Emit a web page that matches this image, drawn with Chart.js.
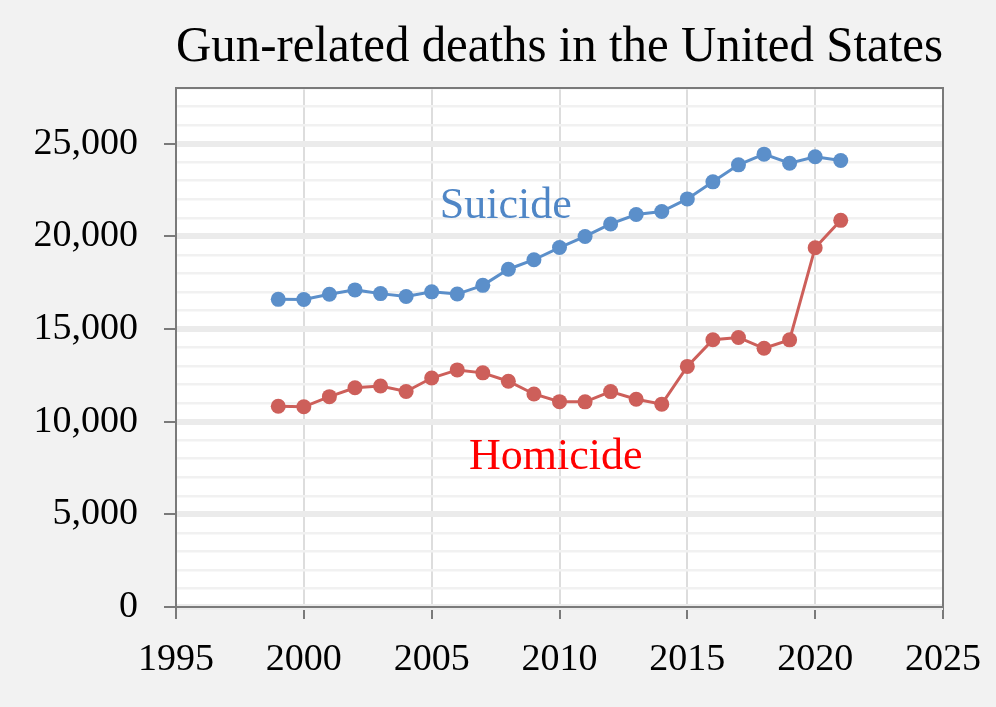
<!DOCTYPE html>
<html>
<head>
<meta charset="utf-8">
<title>Gun-related deaths in the United States</title>
<script src="https://cdn.jsdelivr.net/npm/chart.js@4"></script>
<style>
  html, body { margin: 0; padding: 0; background: #f2f2f2; }
  #wrap { width: 996px; height: 707px; }
</style>
</head>
<body>
<div id="wrap"><canvas id="chart" width="996" height="707"></canvas></div>
<script>
// Data
const years = [1999, 2000, 2001, 2002, 2003, 2004, 2005, 2006, 2007, 2008, 2009, 2010,
  2011, 2012, 2013, 2014, 2015, 2016, 2017, 2018, 2019, 2020, 2021];
const suicide = [16599, 16586, 16869, 17108, 16907, 16750, 17002, 16883, 17352, 18223, 18735, 19392,
  19990, 20666, 21175, 21334, 22018, 22938, 23854, 24432, 23941, 24292, 24090];
const homicide = [10828, 10801, 11348, 11829, 11920, 11624, 12352, 12791, 12632, 12179, 11493, 11078,
  11068, 11622, 11208, 10945, 12979, 14415, 14542, 13958, 14414, 19384, 20860];
const seriesLabels = ["Suicide", "Homicide"];
const xRange = [1995, 2025];
const yRange = [0, 28000];

const serif = "'Liberation Serif', 'Times New Roman', serif";

function toPoints(values) {
  return years.map((y, i) => ({ x: y, y: values[i] }));
}

// Background: grey page, white plot area
const backgroundPlugin = {
  id: "background",
  beforeDraw(chart) {
    const { ctx, chartArea } = chart;
    ctx.save();
    ctx.fillStyle = "#f2f2f2";
    ctx.fillRect(0, 0, chart.width, chart.height);
    ctx.fillStyle = "#ffffff";
    ctx.fillRect(chartArea.left, chartArea.top, chartArea.right - chartArea.left, chartArea.bottom - chartArea.top);
    ctx.restore();
  },
};

// Top and right frame lines of the plot box
const framePlugin = {
  id: "frame",
  beforeDatasetsDraw(chart) {
    const { ctx, chartArea } = chart;
    ctx.save();
    ctx.strokeStyle = "#7a7a7a";
    ctx.lineWidth = 2;
    ctx.beginPath();
    ctx.moveTo(chartArea.left, chartArea.top);
    ctx.lineTo(chartArea.right, chartArea.top);
    ctx.lineTo(chartArea.right, chartArea.bottom);
    ctx.stroke();
    ctx.restore();
  },
};

// Inline series names placed in data coordinates
const seriesNames = [
  { text: seriesLabels[0], x: 2007.9, y: 20960, color: "#4f86c6" },
  { text: seriesLabels[1], x: 2009.85, y: 7435, color: "#ff0000" },
];
const namesPlugin = {
  id: "names",
  afterDatasetsDraw(chart) {
    const { ctx, scales } = chart;
    ctx.save();
    ctx.font = "44px " + serif;
    ctx.textAlign = "center";
    ctx.textBaseline = "alphabetic";
    seriesNames.forEach((n) => {
      ctx.fillStyle = n.color;
      ctx.fillText(n.text, scales.x.getPixelForValue(n.x), scales.y.getPixelForValue(n.y));
    });
    ctx.restore();
  },
};

const ctx = document.getElementById("chart").getContext("2d");

const chart = new Chart(ctx, {
  type: "line",
  data: {
    datasets: [
      {
        label: seriesLabels[0],
        data: toPoints(suicide),
        borderColor: "#5b8fca",
        backgroundColor: "#5b8fca",
        borderWidth: 3,
        pointRadius: 7.5,
        pointBorderWidth: 0,
        pointHoverRadius: 7.5,
        tension: 0,
      },
      {
        label: seriesLabels[1],
        data: toPoints(homicide),
        borderColor: "#cd5f5a",
        backgroundColor: "#cd5f5a",
        borderWidth: 3,
        pointRadius: 7.5,
        pointBorderWidth: 0,
        pointHoverRadius: 7.5,
        tension: 0,
      },
    ],
  },
  options: {
    responsive: false,
    animation: false,
    layout: {
      padding: { left: 0, right: 53, top: 0, bottom: 0 },
    },
    plugins: {
      legend: { display: false },
      tooltip: { enabled: false },
      title: {
        display: true,
        text: "Gun-related deaths in the United States",
        fullSize: false,
        color: "#000000",
        font: { family: serif, size: 50, weight: "normal" },
        padding: { top: 18, bottom: 10 },
      },
    },
    scales: {
      x: {
        type: "linear",
        min: xRange[0],
        max: xRange[1],
        afterFit(scale) {
          scale.height = 100;
          scale.paddingLeft = 0;
          scale.paddingRight = 0;
        },
        border: { color: "#7a7a7a", width: 2 },
        grid: {
          color: "#dddddd",
          lineWidth: 2,
          tickLength: 12,
          tickColor: "#7a7a7a",
          tickWidth: 2,
        },
        ticks: {
          stepSize: 5,
          padding: 18,
          color: "#000000",
          font: { family: serif, size: 38 },
          maxRotation: 0,
          callback: function (value) {
            return String(value);
          },
        },
      },
      y: {
        min: yRange[0],
        max: yRange[1],
        afterFit(scale) {
          scale.width = 176;
        },
        border: { color: "#7a7a7a", width: 2 },
        grid: {
          color: (c) => (c.tick && c.tick.value % 5000 === 0 ? "#ebebeb" : "#f1f1f1"),
          lineWidth: (c) => (c.tick && c.tick.value % 5000 === 0 ? 6 : 2.5),
          tickLength: 12,
          tickColor: (c) => (c.tick && c.tick.value % 5000 === 0 ? "#7a7a7a" : "rgba(0,0,0,0)"),
          tickWidth: 2,
        },
        ticks: {
          stepSize: 1000,
          maxTicksLimit: 100,
          autoSkip: false,
          padding: 26,
          color: "#000000",
          font: { family: serif, size: 38 },
          callback: function (value) {
            return value % 5000 === 0 ? value.toLocaleString("en-US") : "";
          },
        },
      },
    },
  },
  plugins: [backgroundPlugin, framePlugin, namesPlugin],
});
</script>
</body>
</html>
